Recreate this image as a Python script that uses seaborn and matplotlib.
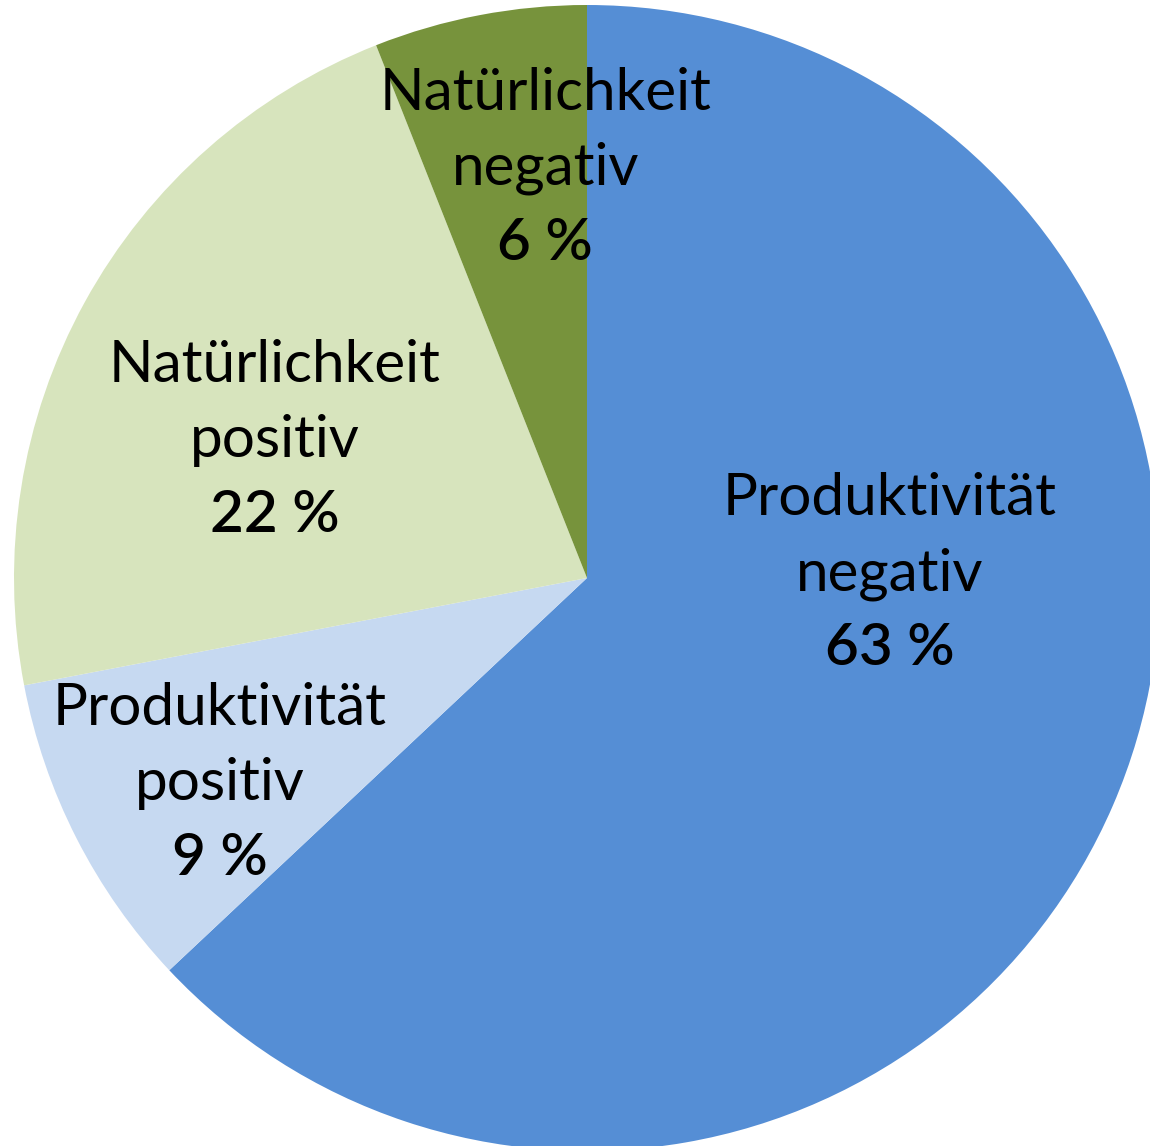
import matplotlib
matplotlib.use("Agg")
import matplotlib.pyplot as plt
import seaborn as sns

sns.set_theme(style="white")
plt.rcParams['font.family'] = ['Lato', 'DejaVu Sans']

# Daten
kategorie = ["Produktivität", "Produktivität", "Natürlichkeit", "Natürlichkeit"]
richtung = ["negativ", "positiv", "positiv", "negativ"]
anteile = [63, 9, 22, 6]
farben = ["#558ED5", "#C6D9F1", "#D7E4BD", "#77933C"]

# Lage der Beschriftungen: Grundlinie der mittleren Zeile, in Radius-Einheiten
label_pos = [(0.529, -0.021), (-0.641, -0.387), (-0.545, 0.211), (-0.073, 0.686)]
zeilenabstand = 54  # pt

fig = plt.figure(figsize=(11.5, 11.46), dpi=100)
ax = fig.add_axes([0, 0, 1, 1])
ax.pie(anteile, colors=farben, startangle=90, counterclock=False,
       wedgeprops=dict(linewidth=0))

for kat, ri, wert, (x, y) in zip(kategorie, richtung, anteile, label_pos):
    zeilen = [(kat, zeilenabstand, "normal"), (ri, 0, "normal"),
              (f"{wert} %", -zeilenabstand, 600)]
    for txt, dy, gew in zeilen:
        ax.annotate(txt, (x, y), xytext=(0, dy), textcoords="offset points",
                    ha="center", va="baseline", fontsize=42,
                    fontweight=gew, color="black")

# Ausschnitt wie im Original (Kreis rechts und unten leicht abgeschnitten)
r_px = 573
ax.set_xlim(-587 / r_px, (1150 - 587) / r_px)
ax.set_ylim(-(1146 - 578) / r_px, 578 / r_px)
ax.set_aspect("equal")
ax.axis("off")

fig.savefig("out.png", dpi=100, facecolor="white")
